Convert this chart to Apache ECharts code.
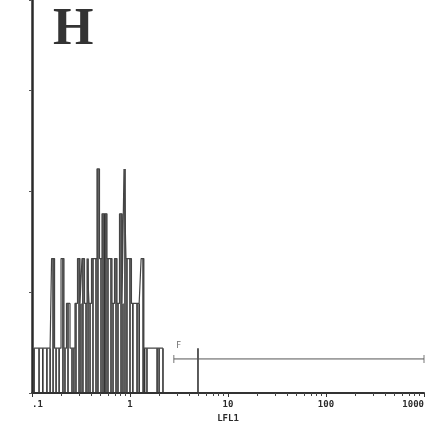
<!DOCTYPE html>
<html><head><meta charset="utf-8">
<script src="https://cdn.jsdelivr.net/npm/echarts@6/dist/echarts.min.js"></script>
<style>html,body{margin:0;padding:0;background:#fff}#c{width:439px;height:437px}</style>
</head><body><div id="c"></div>
<script>
// LFL1 channel positions (log units) and event counts of the main population
const lfl1 = [0.105, 0.118, 0.129, 0.142, 0.153, 0.164, 0.176, 0.189, 0.207, 0.217,
              0.233, 0.256, 0.268, 0.281, 0.302, 0.316, 0.331, 0.356, 0.373, 0.391,
              0.419, 0.450, 0.471, 0.506, 0.530, 0.550, 0.569, 0.596, 0.640, 0.671, 0.720,
              0.754, 0.810, 0.848, 0.889, 0.931, 1.00, 1.07, 1.18, 1.24, 1.36,
              1.41, 1.49, 1.89, 1.98, 2.17];
const counts = [1, 1, 1, 1, 1, 3, 1, 1, 3, 1,
                2, 1, 1, 2, 3, 2, 3, 2, 3, 2,
                3, 3, 5, 3, 4, 4, 4, 3, 3, 2, 3,
                2, 4, 2, 5, 3, 3, 2, 2, 2, 3,
                1, 1, 1, 1, 1];
// isolated event inside the marker region
const lateLfl1 = [4.94];
const lateCounts = [1];
// marker "F"
const gateRange = [2.8, 1000];
const gateLevel = 0.76;
const gateName = 'F';
// axis ticks
const decades = [0.1, 1, 10, 100, 1000];
const minorTicks = [0.2, 0.3, 0.4, 0.5, 0.6, 0.7, 0.8, 0.9,
                    2, 3, 4, 5, 6, 7, 8, 9,
                    20, 30, 40, 50, 60, 70, 80, 90,
                    200, 300, 400, 500, 600, 700, 800, 900];
const axisName = 'LFL1';
const panelTitle = 'H';

const ink = '#333';
const pairs = lfl1.map((v, i) => [v, counts[i]]);
const allPairs = pairs.concat(lateLfl1.map((v, i) => [v, lateCounts[i]]));
const tickFont = { fontFamily: 'DejaVu Sans Mono', fontWeight: 'bold', fontSize: 9, color: '#2a2a2a' };

const chart = echarts.init(document.getElementById('c'), null, { renderer: 'canvas' });
chart.setOption({
  animation: false,
  backgroundColor: '#fff',
  title: {
    text: panelTitle, left: 48, top: 0,
    textStyle: { fontFamily: 'Liberation Serif', fontWeight: 'bold', fontSize: 52, color: ink }
  },
  grid: { left: 32, right: 15, top: 0, bottom: 44 },
  xAxis: [{
    type: 'log', logBase: 10, min: 0.1, max: 1000,
    position: 'bottom',
    axisLine: { show: true, lineStyle: { color: ink, width: 2 } },
    axisTick: { show: true, length: 4, customValues: decades, lineStyle: { color: ink, width: 1 } },
    axisLabel: Object.assign({
      margin: 7, customValues: decades,
      alignMinLabel: 'left', alignMaxLabel: 'right',
      formatter: v => String(v).replace(/^0\./, '.')
    }, tickFont),
    splitLine: { show: false },
    name: axisName, nameLocation: 'middle', nameGap: 19,
    nameTextStyle: tickFont
  }, {
    // minor ticks at 2..9 of every decade
    type: 'log', logBase: 10, min: 0.1, max: 1000,
    position: 'bottom', offset: 0,
    axisLine: { show: false },
    axisTick: { show: true, length: 3, customValues: minorTicks, lineStyle: { color: '#444', width: 1 } },
    axisLabel: { show: false },
    splitLine: { show: false }
  }],
  yAxis: {
    type: 'value', min: 0, max: 8.77, interval: 2.25,
    axisLine: { show: true, lineStyle: { color: '#2a2a2a', width: 2.5 } },
    axisTick: { show: true, length: 3, lineStyle: { color: '#555' } },
    axisLabel: { show: false },
    splitLine: { show: false }
  },
  series: [{
    // outline of the histogram
    type: 'line', step: 'middle', data: pairs, symbol: 'none',
    lineStyle: { color: '#444', width: 1.2 }
  }, {
    // one drop line per channel
    type: 'custom', data: allPairs,
    renderItem: (params, api) => {
      const top = api.coord([api.value(0), api.value(1)]);
      const base = api.coord([api.value(0), 0]);
      return { type: 'line', shape: { x1: top[0], y1: top[1], x2: base[0], y2: base[1] },
               style: { stroke: '#333', lineWidth: 1.6 } };
    }
  }, {
    // marker bar
    type: 'line', data: gateRange.map(v => [v, gateLevel]), symbol: 'none',
    lineStyle: { color: '#555', width: 1 }
  }, {
    // marker end caps and name
    type: 'scatter', data: gateRange.map(v => [v, gateLevel]),
    symbol: 'rect', symbolSize: [1, 8],
    itemStyle: { color: '#555' },
    label: {
      show: true, position: [3, -13],
      formatter: p => p.dataIndex === 0 ? gateName : '',
      fontFamily: 'DejaVu Sans Mono', fontSize: 8, color: '#444'
    }
  }]
});
</script>
</body></html>
